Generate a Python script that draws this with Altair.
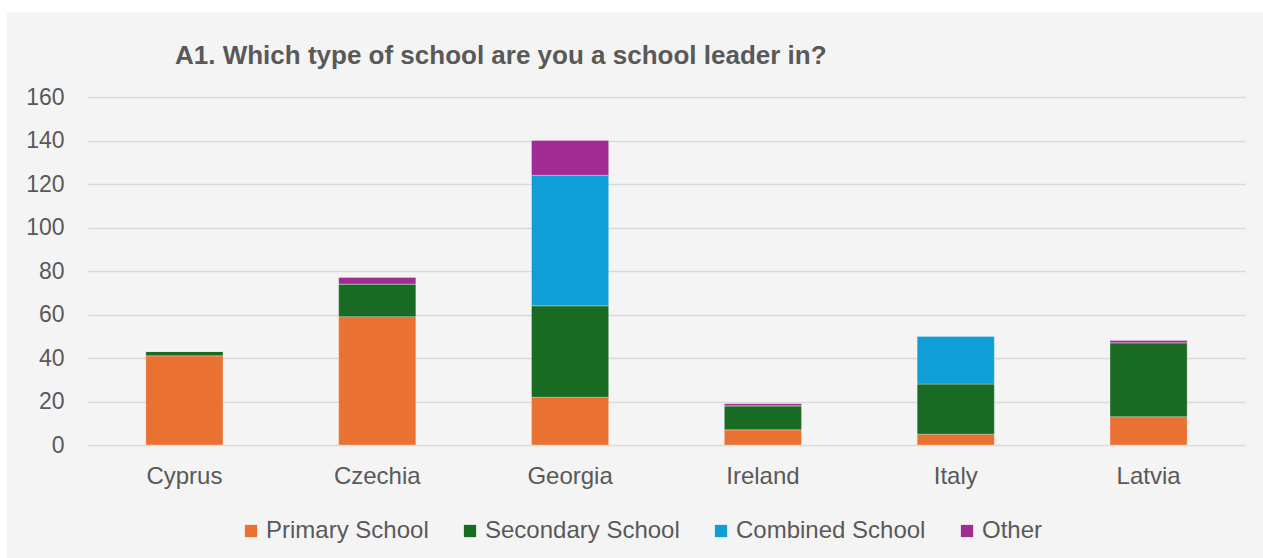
import altair as alt
import pandas as pd

countries = ["Cyprus", "Czechia", "Georgia", "Ireland", "Italy", "Latvia"]
series = ["Primary School", "Secondary School", "Combined School", "Other"]
primary = [41, 59, 22, 7, 5, 13]
secondary = [2, 15, 42, 11, 23, 34]
combined = [0, 0, 60, 0, 22, 0]
other = [0, 3, 16, 1, 0, 1]
colors = ["#E97132", "#196B24", "#0F9ED5", "#A02B93"]
y_ticks = [0, 20, 40, 60, 80, 100, 120, 140, 160]

rows = []
for i, c in enumerate(countries):
    for k, (s, vals) in enumerate(zip(series, [primary, secondary, combined, other])):
        rows.append({"country": c, "type": s, "value": vals[i], "order": k})
df = pd.DataFrame(rows)

FONT = "Liberation Sans"
TXT = "#595959"

bars = alt.Chart(df).mark_bar(stroke="#FFFFFF", strokeOpacity=0.35, strokeWidth=0.8).encode(
    x=alt.X("country:N", sort=countries, title=None,
            scale=alt.Scale(paddingInner=0.6, paddingOuter=0.3),
            axis=alt.Axis(labelAngle=0, ticks=False, domain=False, grid=False,
                          labelFontSize=24, labelColor=TXT, labelFont=FONT, labelPadding=19)),
    y=alt.Y("value:Q", title=None, stack="zero",
            scale=alt.Scale(domain=[0, 160], nice=False),
            axis=alt.Axis(values=y_ticks, ticks=False, domain=False, gridColor="#D9D9D9",
                          gridWidth=1.4, labelFontSize=23, labelColor=TXT, labelFont=FONT,
                          labelPadding=24)),
    color=alt.Color("type:N", sort=series,
                    scale=alt.Scale(domain=series, range=colors),
                    legend=alt.Legend(title=None, orient="none", direction="horizontal",
                                      legendX=151, legendY=422, symbolType="square",
                                      symbolSize=150, symbolStrokeWidth=0, labelFontSize=24,
                                      labelColor=TXT, labelFont=FONT, labelOffset=3,
                                      columnPadding=29, labelLimit=400)),
    order=alt.Order("order:Q", sort="ascending"),
)

frame_data = alt.Data(values=[{"k": 1}])
top_strip = alt.Chart(frame_data).mark_rect(color="#FFFFFF").encode(
    x=alt.value(-88), x2=alt.value(1175), y=alt.value(-97), y2=alt.value(-85))
left_strip = alt.Chart(frame_data).mark_rect(color="#FFFFFF").encode(
    x=alt.value(-88), x2=alt.value(-81), y=alt.value(-97), y2=alt.value(461))

chart = alt.layer(top_strip, left_strip, bars).properties(
    width=1157, height=348,
    padding={"left": 88, "top": 97, "right": 18, "bottom": 113},
    autosize="none",
    background="#F4F4F4",
    title=alt.TitleParams("A1. Which type of school are you a school leader in?",
                          anchor="start", frame="group", dx=87, offset=0, dy=69,
                          fontSize=26, fontWeight="bold", color=TXT, font=FONT),
).configure_view(stroke=None)

chart.save("out.html", embed_options={"renderer": "svg", "actions": False})
